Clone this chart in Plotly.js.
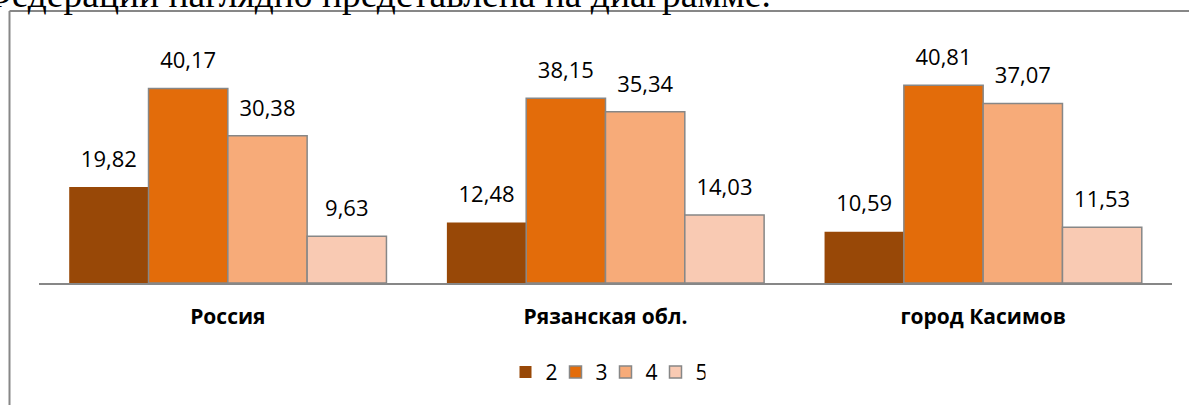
<!DOCTYPE html>
<html>
<head>
<meta charset="utf-8">
<script src="https://cdn.plot.ly/plotly-3.0.1.min.js"></script>
<style>
html,body{margin:0;padding:0;background:#fff;}
#chart{width:1189px;height:405px;}
</style>
</head>
<body>
<div id="chart"></div>
<script>
// ---- data ----
const categories = ["Россия", "Рязанская обл.", "город Касимов"];
const seriesNames = ["2", "3", "4", "5"];
const grade2 = [19.82, 12.48, 10.59];
const grade3 = [40.17, 38.15, 40.81];
const grade4 = [30.38, 35.34, 37.07];
const grade5 = [9.63, 14.03, 11.53];
const headerText = "Федерации наглядно представлена на диаграмме.";

// ---- styles ----
const seriesValues = [grade2, grade3, grade4, grade5];
const colors = ["#984807", "#E36C0A", "#F7AB79", "#F9CAB3"];
const outline = ["rgba(0,0,0,0)", "#878787", "#878787", "#878787"];
const labelFont = {family: "Open Sans, Noto Sans, sans-serif", size: 22, color: "#000"};

const W = 1189, H = 405;
const M = {l: 39, r: 17, t: 65, b: 122};
const pw = W - M.l - M.r, ph = H - M.t - M.b;
const px2x = p => (p - M.l) / pw;
const py2y = p => (H - M.b - p) / ph;

const traces = [];
seriesValues.forEach((vals, i) => {
  traces.push({
    type: "bar",
    name: seriesNames[i],
    x: categories,
    y: vals,
    marker: {color: colors[i], line: {color: outline[i], width: i === 0 ? 0 : 1.5}},
    hoverinfo: "skip"
  });
});
seriesValues.forEach((vals, i) => {
  traces.push({
    type: "scatter",
    mode: "markers+text",
    x: categories,
    y: vals,
    texttemplate: "%{y:.2f}",
    textposition: "top center",
    textfont: labelFont,
    marker: {size: 22, opacity: 0},
    showlegend: false,
    cliponaxis: false,
    hoverinfo: "skip"
  });
});

const layout = {
  width: W, height: H,
  margin: M,
  paper_bgcolor: "#fff",
  plot_bgcolor: "#fff",
  separators: ", ",
  barmode: "group",
  bargap: 0.16,
  bargroupgap: 0,
  scattermode: "group",
  scattergap: 0.16,
  showlegend: true,
  legend: {
    orientation: "h",
    x: 0.5, xanchor: "center",
    y: -0.41, yanchor: "middle",
    font: {family: "Open Sans, Noto Sans, sans-serif", size: 21, color: "#000"},
    itemwidth: 30,
    entrywidth: 5,
    entrywidthmode: "pixels",
    traceorder: "normal"
  },
  xaxis: {
    type: "category",
    showline: true,
    linecolor: "#878787",
    linewidth: 2,
    ticks: "",
    showgrid: false,
    zeroline: false,
    ticklabelstandoff: 14,
    tickfont: {family: "Open Sans, Noto Sans, sans-serif", size: 21, color: "#000", weight: "bold"}
  },
  yaxis: {
    range: [0, 45],
    visible: false,
    showgrid: false,
    zeroline: false,
    fixedrange: true
  },
  shapes: [
    {type: "line", xref: "paper", yref: "paper", x0: px2x(9.5), x1: px2x(9.5), y0: py2y(11), y1: py2y(H + 5),
     line: {color: "#878787", width: 2}},
    {type: "line", xref: "paper", yref: "paper", x0: px2x(9.5), x1: px2x(W + 5), y0: py2y(11), y1: py2y(11),
     line: {color: "#878787", width: 2}}
  ],
  annotations: [
    {text: headerText, xref: "paper", yref: "paper", x: px2x(-20), y: py2y(17),
     xanchor: "left", yanchor: "bottom", showarrow: false,
     font: {family: "Liberation Serif, serif", size: 37.5, color: "#000"}}
  ]
};

Plotly.newPlot("chart", traces, layout, {displayModeBar: false, staticPlot: true});
</script>
</body>
</html>
